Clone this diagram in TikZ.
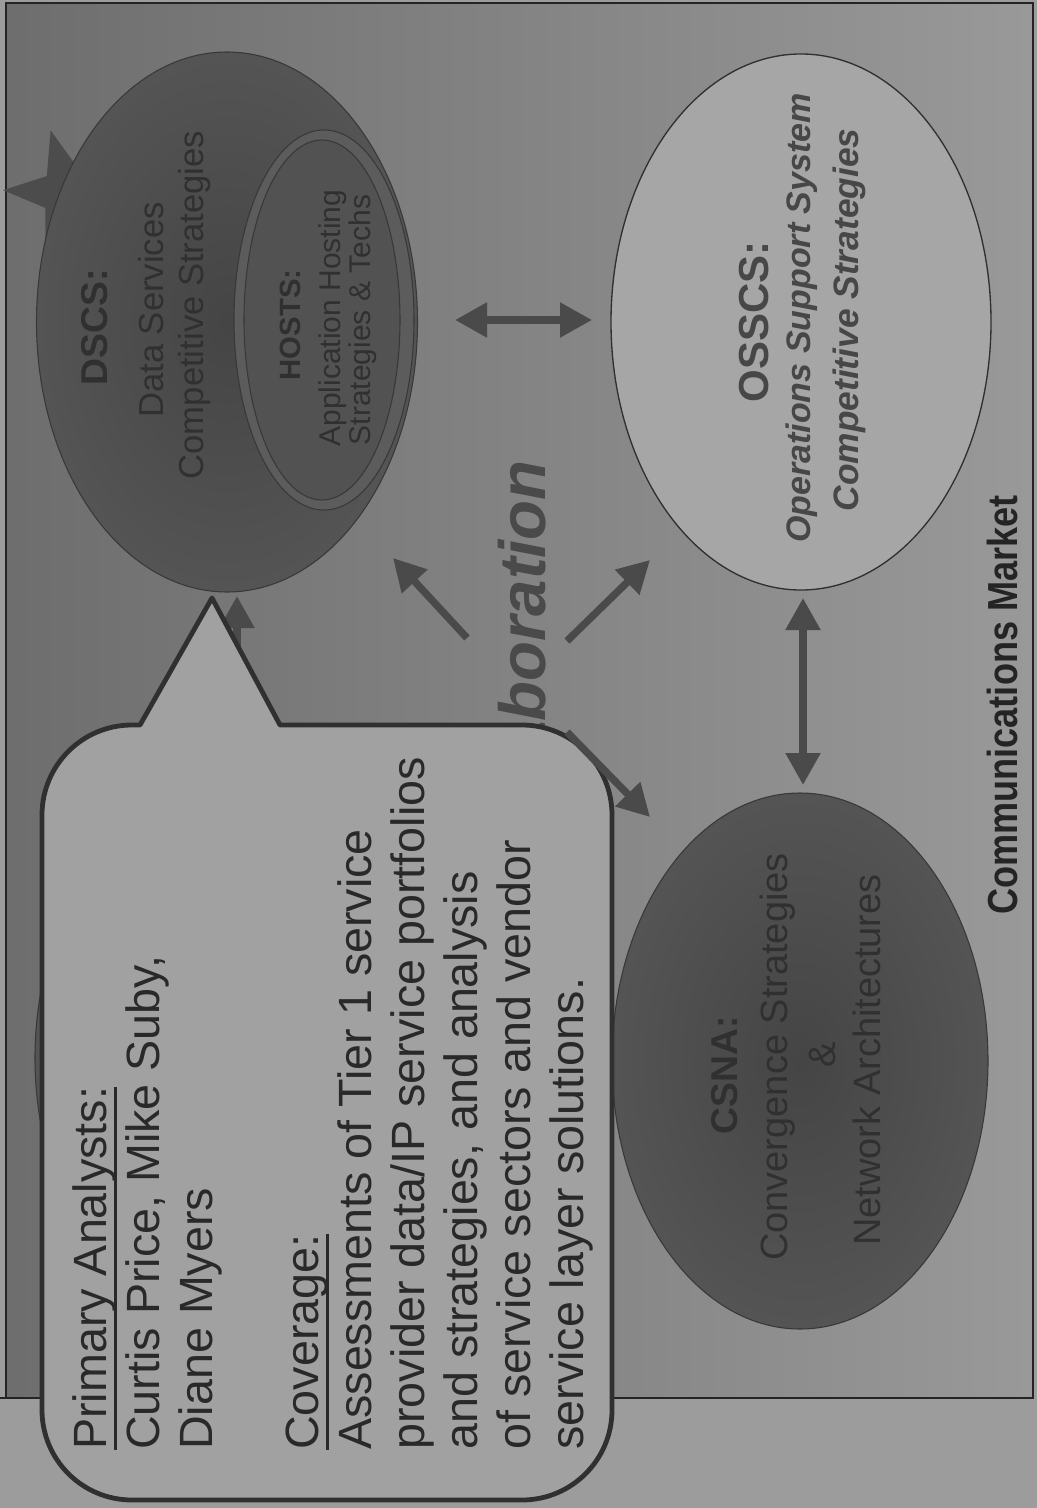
\documentclass[tikz,border=0pt]{standalone}
\usepackage{fontspec}
\setmainfont{Liberation Sans}
\usetikzlibrary{shapes.geometric,arrows.meta}
\definecolor{bgOut}{gray}{0.61}
\definecolor{bgL}{gray}{0.43}
\definecolor{bgR}{gray}{0.60}
\definecolor{darkIn}{gray}{0.27}
\definecolor{darkOut}{gray}{0.33}
\definecolor{darkLine}{gray}{0.22}
\definecolor{darkText}{gray}{0.19}
\definecolor{hostsFill}{gray}{0.32}
\definecolor{hostsRing}{gray}{0.36}
\definecolor{ossFill}{gray}{0.65}
\definecolor{ossText}{gray}{0.28}
\definecolor{callFill}{gray}{0.63}
\definecolor{callLine}{gray}{0.19}
\definecolor{callText}{gray}{0.16}
\definecolor{arrowCol}{gray}{0.29}
\definecolor{frameCol}{gray}{0.14}
\newcommand\myul[1]{\setbox0=\hbox{#1}\rlap{\rule[-8.5pt]{\wd0}{2.2pt}}\box0}
\begin{document}
\begin{tikzpicture}[x=0.75pt,y=-0.75pt,
  darkell/.style={ellipse, inner sep=0, draw=darkLine, line width=0.8pt, inner color=darkIn, outer color=darkOut},
  vtext/.style={rotate=90, anchor=base, inner sep=0, align=center},
  arr/.style={draw=arrowCol, line width=5.5pt, -{Triangle[length=24pt,width=25pt]}},
  dbl/.style={draw=arrowCol, line width=5.5pt, {Triangle[length=24pt,width=25pt]}-{Triangle[length=24pt,width=25pt]}}]
\useasboundingbox (0,0) rectangle (1037,1508);
% background
\fill[bgOut] (0,0) rectangle (1037,1508);
\shade[left color=bgL, right color=bgR] (6,3) rectangle (1033,1398);
\draw[frameCol, line width=1.4pt] (6,3) rectangle (1033,1398);
\draw[frameCol, line width=1.4pt] (0,1398) -- (6,1398);
% star behind DSCS
\node[star, star points=5, star point ratio=2.4, minimum size=97.5pt, inner sep=0, fill=darkOut!90!black, rotate=15.5] (star) at (68,193) {};
% DSCS ellipse
\node[darkell, minimum width=285.75pt, minimum height=405pt] (dscs) at (227,322) {};
\node[vtext, text=darkText, font=\fontsize{28}{32}\selectfont\bfseries] (dscsT) at (107,327) {DSCS:};
\node[vtext, text=darkText, font=\fontsize{26}{30}\selectfont] (dscsL1) at (163,310) {Data Services};
\node[vtext, text=darkText, font=\fontsize{26}{30}\selectfont] (dscsL2) at (203,305) {Competitive Strategies};
% HOSTS
\node[ellipse, inner sep=0, minimum width=135pt, minimum height=285pt, fill=hostsRing, draw=darkLine, line width=0.8pt] (hostsR) at (324,320) {};
\node[ellipse, inner sep=0, minimum width=117pt, minimum height=270pt, fill=hostsFill, draw=darkLine, line width=0.8pt] (hosts) at (322,320) {};
\node[vtext, text=darkText, font=\fontsize{22}{26}\selectfont\bfseries] (hostsT) at (300,325) {HOSTS:};
\node[vtext, text=darkText, font=\fontsize{22.5}{26}\selectfont] (hostsL1) at (340,318) {Application Hosting};
\node[vtext, text=darkText, font=\fontsize{22.5}{26}\selectfont] (hostsL2) at (370,320) {Strategies \& Techs};
% OSSCS
\node[ellipse, inner sep=0, minimum width=285pt, minimum height=402pt, fill=ossFill, draw=callLine, line width=1pt] (osscs) at (801,322) {};
\node[vtext, text=ossText, font=\fontsize{31.5}{36}\selectfont\bfseries] (ossT) at (768,322) {OSSCS:};
\node[vtext, text=ossText, font=\fontsize{25.5}{30}\selectfont\bfseries\itshape] (ossL1) at (810,318) {Operations Support System};
\node[vtext, text=ossText, font=\fontsize{26.5}{30}\selectfont\bfseries\itshape] (ossL2) at (858,320) {Competitive Strategies};
% CSNA
\node[darkell, minimum width=282pt, minimum height=402pt] (csna) at (800,1061) {};
\node[vtext, text=darkText, font=\fontsize{28}{32}\selectfont\bfseries] (csnaT) at (737,1075) {CSNA:};
\node[vtext, text=darkText, font=\fontsize{28.5}{32}\selectfont] (csnaL1) at (787,1057) {Convergence Strategies};
\node[vtext, text=darkText, font=\fontsize{28.5}{32}\selectfont] (csnaL2) at (835,1055) {\&};
\node[vtext, text=darkText, font=\fontsize{28.5}{32}\selectfont] (csnaL3) at (880,1060) {Network Architectures};
% hidden fourth ellipse behind callout
\node[darkell, minimum width=288pt, minimum height=402pt] (hidden) at (227,1058) {};
% Collaboration
\node[rotate=90, anchor=base east, inner sep=0, text=arrowCol, font=\fontsize{49}{55}\selectfont\bfseries\itshape] (collab) at (545,460) {Collaboration};
% arrow hidden behind callout pointer
\coordinate (hs) at (237,760);
\coordinate (he) at (237,596);
\draw[arr] (hs) -- (he);
% callout
\draw[fill=callFill, draw=callLine, line width=3.6pt, line join=round]
  (42,815) arc[start angle=180, end angle=90, radius=67.5pt]
  -- (140,725) -- (212,598) -- (280,725) -- (522,725)
  arc[start angle=90, end angle=0, radius=67.5pt]
  -- (612,1410) arc[start angle=0, end angle=-90, radius=67.5pt]
  -- (132,1500) arc[start angle=-90, end angle=-180, radius=67.5pt]
  -- cycle;
\node[rotate=90, anchor=base west, inner sep=0, align=left, text=callText, font=\fontsize{35}{39.75}\selectfont] (calltext) at (583,1450)
  {\myul{Primary Analysts:}\\ Curtis Price, Mike Suby,\\ Diane Myers\\[39.75pt]
   \myul{Coverage:}\\ Assessments of Tier 1 service\\ provider data/IP service portfolios\\
   and strategies, and analysis\\ of service sectors and vendor\\ service layer solutions.};
% arrows
\coordinate (h1) at (455,320); \coordinate (h2) at (592,320);
\draw[dbl] (h1) -- (h2);
\coordinate (v1) at (803,598); \coordinate (v2) at (803,785);
\draw[dbl] (v1) -- (v2);
\coordinate (c1s) at (467,638); \coordinate (c1e) at (393,558);
\draw[arr] (c1s) -- (c1e);
\coordinate (c2s) at (567,641); \coordinate (c2e) at (650,560);
\draw[arr] (c2s) -- (c2e);
\coordinate (c3s) at (567,732); \coordinate (c3e) at (650,817);
\draw[arr] (c3s) -- (c3e);
% caption
\node[vtext, text=frameCol, font=\fontsize{31.5}{36}\selectfont\bfseries] (market) at (1017,705) {\scalebox{0.86}[1]{Communications Market}};
\end{tikzpicture}
\end{document}
